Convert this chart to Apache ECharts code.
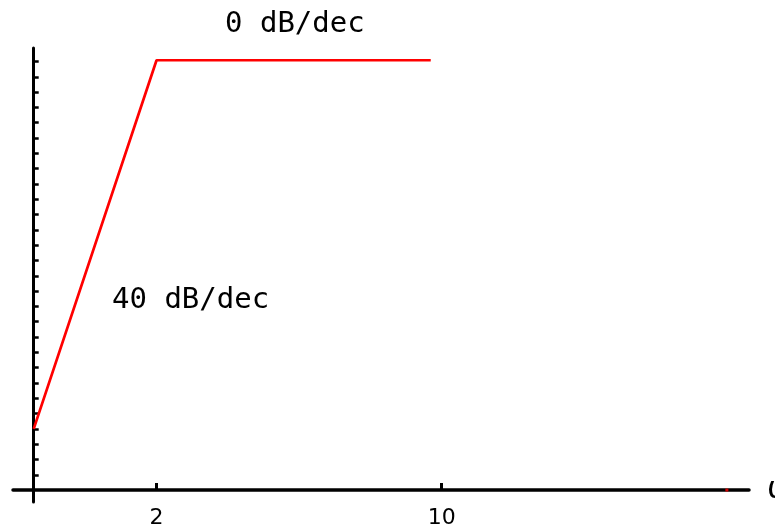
<!DOCTYPE html>
<html>
<head>
<meta charset="utf-8">
<script src="https://cdn.jsdelivr.net/npm/echarts@6/dist/echarts.min.js"></script>
<style>html,body{margin:0;padding:0;background:#fff}#c{width:775px;height:526px}</style>
</head>
<body>
<div id="c"></div>
<script>
// Asymptotic magnitude (dB) vs frequency ω (log scale)
const omega = [1, 2, 9.4];
const magnitude = [2.0, 14.04, 14.04];
const endMarker = [[50, 0]];
const xTickValues = [2, 10];
const yTickValues = [0.5, 1, 1.5, 2, 2.5, 3, 3.5, 4, 4.5, 5, 5.5, 6, 6.5, 7, 7.5, 8, 8.5, 9, 9.5, 10, 10.5, 11, 11.5, 12, 12.5, 13, 13.5, 14];
const annotations = [
  { text: '0 dB/dec', x: 225, y: 24 },
  { text: '40 dB/dec', x: 112, y: 300 }
];

const chart = echarts.init(document.getElementById('c'), null, { renderer: 'canvas' });
chart.setOption({
  animation: false,
  backgroundColor: '#ffffff',
  grid: { left: 13, right: 26, top: 48, bottom: 24, containLabel: false, outerBoundsMode: 'none' },
  xAxis: {
    type: 'log',
    min: 0.8897,
    max: 56.65,
    name: 'ω',
    nameLocation: 'end',
    nameGap: 18,
    nameTextStyle: { fontFamily: 'DejaVu Sans', fontSize: 30, color: '#000', verticalAlign: 'middle' },
    axisLine: { show: true, onZero: true, lineStyle: { color: '#000', width: 3.5 } },
    axisTick: { show: true, inside: true, length: 7, customValues: xTickValues, lineStyle: { color: '#000', width: 3 } },
    minorTick: { show: false },
    axisLabel: { show: true, customValues: xTickValues, margin: 5, fontFamily: 'DejaVu Sans', fontSize: 22, color: '#000' },
    splitLine: { show: false },
    minorSplitLine: { show: false }
  },
  yAxis: {
    type: 'value',
    min: -0.39,
    max: 14.44,
    offset: -20.7,
    axisLine: { show: true, onZero: false, lineStyle: { color: '#000', width: 3 } },
    axisTick: { show: true, inside: true, length: 5, customValues: yTickValues, lineStyle: { color: '#000', width: 2.5 } },
    axisLabel: { show: false },
    splitLine: { show: false }
  },
  series: [
    {
      type: 'line',
      data: omega.map((w, i) => [w, magnitude[i]]),
      showSymbol: false,
      symbol: 'none',
      lineStyle: { color: '#ff0000', width: 2.7 },
      z: 5
    },
    {
      type: 'scatter',
      data: endMarker,
      symbol: 'rect',
      symbolSize: 3,
      itemStyle: { color: '#ff0000' },
      z: 6
    }
  ],
  graphic: annotations.map(a => ({
    type: 'text',
    x: a.x,
    y: a.y,
    style: {
      text: a.text,
      fontFamily: 'DejaVu Sans Mono',
      fontSize: 29,
      fill: '#000',
      textVerticalAlign: 'middle'
    }
  }))
});
</script>
</body>
</html>
